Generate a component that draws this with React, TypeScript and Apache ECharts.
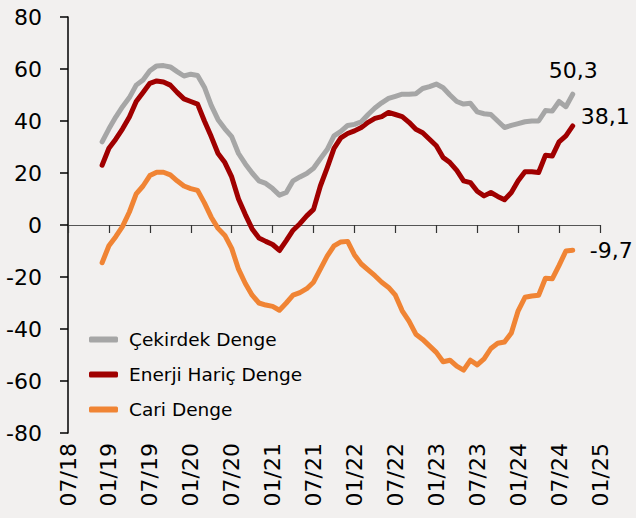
import React, { useEffect, useRef } from 'react';
import * as echarts from 'echarts';

// Monthly categories 07/18 .. 01/25
const categories: string[] = [];
for (let i = 0; i < 79; i++) {
  const mIdx = 6 + i;
  const yy = 18 + Math.floor(mIdx / 12);
  const mm = (mIdx % 12) + 1;
  categories.push(`${String(mm).padStart(2, '0')}/${yy}`);
}
const startIndex = 5; // 12/18

const seriesNames = ['Çekirdek Denge', 'Enerji Hariç Denge', 'Cari Denge'];

const coreBalance = [
  32, 37, 41.5, 45.5, 49, 53.8, 55.8, 59.3, 61.2, 61.3, 60.8, 59, 57.3, 58, 57.5,
  53, 46, 40.5, 37, 34, 27.5, 23.5, 20, 17, 16, 14, 11.5, 12.5, 17, 18.5, 19.8, 21.8,
  25.5, 29, 34.3, 36, 38.3, 38.7, 39.7, 42.5, 45, 47, 48.7, 49.5, 50.3, 50.3, 50.5,
  52.5, 53.2, 54.2, 52.8, 50, 47.5, 46.5, 46.8, 43.5, 42.8, 42.5, 40, 37.5, 38.3, 39,
  39.7, 40, 40, 44, 43.8, 47.5, 45.5, 50.3,
];

const exEnergyBalance = [
  23, 29.5, 33, 37, 41.5, 47.5, 51, 54.5, 55.4, 55, 53.8, 51, 48.5, 47.5, 46.5, 40,
  34, 27.5, 24, 18.5, 10, 4, -1.5, -5, -6.3, -7.5, -9.8, -6, -2, 0.5, 3.5, 6, 15,
  22, 29.5, 33.5, 35.2, 36.2, 37.5, 39.5, 41, 41.7, 43.3, 42.5, 41.7, 39.5, 36.8,
  35.5, 33, 30.5, 26, 24, 21, 17, 16.3, 13, 11.2, 12.5, 11, 9.7, 12.5, 17, 20.5,
  20.5, 20.2, 26.8, 26.5, 32, 34.3, 38.1,
];

const currentBalance = [
  -14.5, -8, -4.5, -0.5, 5, 12, 15, 19, 20.3, 20.3, 19.3, 17, 15, 14, 13.3, 8.5, 3,
  -1.3, -4, -9, -17, -22.5, -27, -30, -30.8, -31.3, -32.8, -30, -27, -26, -24.5, -22,
  -17, -12, -8, -6.5, -6.3, -11.5, -15, -17.3, -19.5, -22, -24, -27, -33, -37, -42,
  -44, -46.5, -49, -52.6, -52, -54.3, -55.8, -52, -53.8, -51.5, -47.5, -45.5, -45,
  -41.5, -33, -27.8, -27.3, -27, -20.5, -20.7, -15.5, -10, -9.7,
];

const colors = ['#a6a6a6', '#a00000', '#f08434'];
const FONT = 'DejaVu Sans';

const toPairs = (vals: number[]) => vals.map((v, i) => [categories[i + startIndex], v]);
const fmt = (v: number) => String(v).replace('.', ',');

export default function App() {
  const ref = useRef<HTMLDivElement>(null);
  useEffect(() => {
    if (!ref.current) return;
    const chart = echarts.init(ref.current, undefined, { renderer: 'svg' });
    const endOffsets = [
      [-32, -24],
      [0, -9],
      [9, 0],
    ];
    const datasets = [coreBalance, exEnergyBalance, currentBalance];
    chart.setOption({
      animation: false,
      backgroundColor: '#f2f0ef',
      textStyle: { fontFamily: FONT },
      grid: { left: 68, right: 36, top: 17, bottom: 85 },
      legend: {
        orient: 'vertical',
        left: 84,
        top: 324,
        itemWidth: 29,
        itemHeight: 6,
        itemGap: 14,
        icon: 'roundRect',
        data: seriesNames,
        textStyle: { fontFamily: FONT, fontSize: 18.5, color: '#000', padding: [0, 0, 0, 6], lineHeight: 21 },
      },
      xAxis: [
        {
          type: 'category',
          data: categories,
          boundaryGap: false,
          position: 'bottom',
          axisLine: { show: false, onZero: false },
          axisTick: { show: false },
          splitLine: { show: false },
          axisLabel: {
            interval: 5,
            rotate: 90,
            margin: 10,
            fontFamily: FONT,
            fontSize: 22,
            color: '#000',
          },
        },
        {
          type: 'category',
          data: categories,
          boundaryGap: false,
          position: 'bottom',
          axisLine: { show: true, onZero: true, lineStyle: { color: '#555', width: 1.2 } },
          axisTick: { show: true, interval: 5, length: 8, inside: false, lineStyle: { color: '#333', width: 1.2 } },
          axisLabel: { show: false },
          splitLine: { show: false },
        },
      ],
      yAxis: {
        type: 'value',
        min: -80,
        max: 80,
        interval: 20,
        axisLine: { show: true, lineStyle: { color: '#000', width: 1.5 } },
        axisTick: { show: true, length: 8, lineStyle: { color: '#000', width: 1.5 } },
        splitLine: { show: false },
        axisLabel: { margin: 26, fontFamily: FONT, fontSize: 22, color: '#000' },
      },
      series: datasets.map((vals, i) => ({
        name: seriesNames[i],
        type: 'line',
        xAxisIndex: 0,
        data: toPairs(vals),
        showSymbol: false,
        symbol: 'none',
        color: colors[i],
        lineStyle: { color: colors[i], width: 5, cap: 'round', join: 'round' },
        z: 10 - i,
        endLabel: {
          show: true,
          formatter: (p: any) => fmt(p.value[1]),
          offset: endOffsets[i],
          fontFamily: FONT,
          fontSize: 22,
          color: '#000',
        },
      })),
    });
    return () => chart.dispose();
  }, []);
  return (
    <div
      ref={ref}
      style={{ position: 'fixed', left: 0, top: 0, width: 636, height: 518 }}
    />
  );
}
